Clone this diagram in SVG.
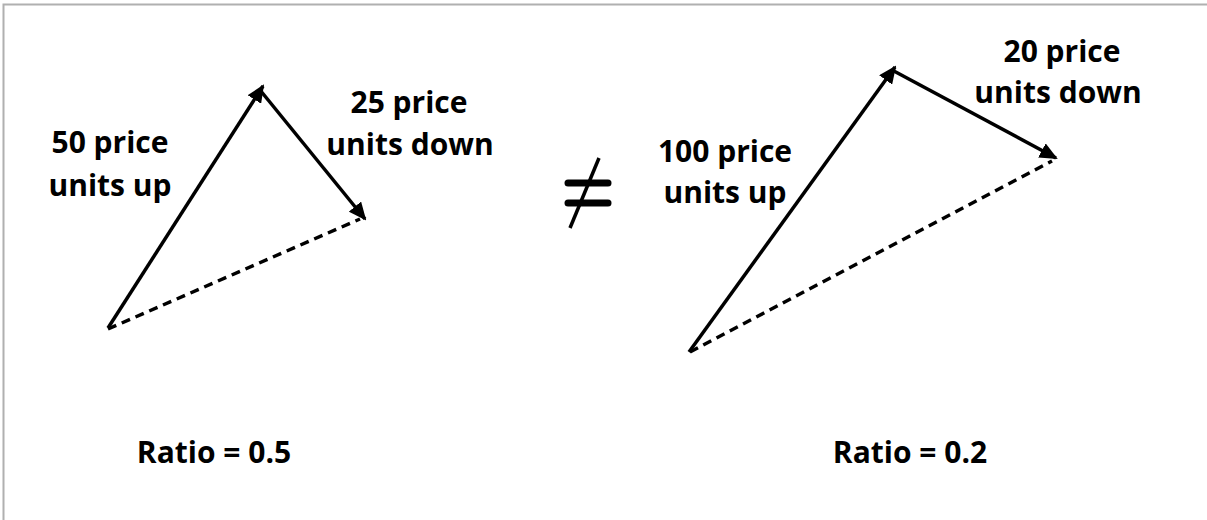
<svg xmlns="http://www.w3.org/2000/svg" width="1207" height="520" viewBox="0 0 1207 520">
<style>
.t{font-family:"Open Sans","Noto Sans","Liberation Sans",sans-serif;font-weight:700;font-size:30px;fill:#000;text-anchor:middle}
.s{stroke:#000;stroke-width:3.5;fill:none}
.d{stroke:#000;stroke-width:3.5;fill:none;stroke-dasharray:9 6}
</style>
<defs>
<marker id="ah" markerUnits="userSpaceOnUse" markerWidth="18" markerHeight="16" refX="16" refY="8" orient="auto">
<path d="M0,0 L18,8 L0,16 Z" fill="#000"/>
</marker>
</defs>
<rect x="0" y="0" width="1207" height="520" fill="#fff"/>
<path d="M3.5,520 V4.5 H1207" fill="none" stroke="#b0b0b0" stroke-width="2"/>
<g id="connectors">
<line class="s" x1="108" y1="328" x2="263" y2="86" marker-end="url(#ah)"/>
<line class="s" x1="260" y1="90" x2="365" y2="219" marker-end="url(#ah)"/>
<line class="d" x1="108" y1="329" x2="360" y2="219"/>
<line class="s" x1="689" y1="352" x2="895" y2="67" marker-end="url(#ah)"/>
<line class="s" x1="892" y1="70" x2="1056" y2="158" marker-end="url(#ah)"/>
<line class="d" x1="690" y1="352" x2="1052" y2="161"/>
</g>
<g id="neq">
<line x1="568" y1="183" x2="608" y2="183" stroke="#000" stroke-width="7" stroke-linecap="round"/>
<line x1="568" y1="203" x2="608" y2="203" stroke="#000" stroke-width="7" stroke-linecap="round"/>
<line x1="599" y1="158" x2="570" y2="228" stroke="#000" stroke-width="3.5"/>
</g>
<g id="label-50up"><text class="t" x="110" y="153">50 price</text><text class="t" x="110" y="196">units up</text></g>
<g id="label-25down"><text class="t" x="409" y="113">25 price</text><text class="t" x="410" y="155">units down</text></g>
<g id="label-100up"><text class="t" x="725" y="162">100 price</text><text class="t" x="725" y="203">units up</text></g>
<g id="label-20down"><text class="t" x="1062" y="62">20 price</text><text class="t" x="1058" y="103">units down</text></g>
<g id="ratio-left"><text class="t" x="214" y="463">Ratio = 0.5</text></g>
<g id="ratio-right"><text class="t" x="910" y="463">Ratio = 0.2</text></g>
</svg>
